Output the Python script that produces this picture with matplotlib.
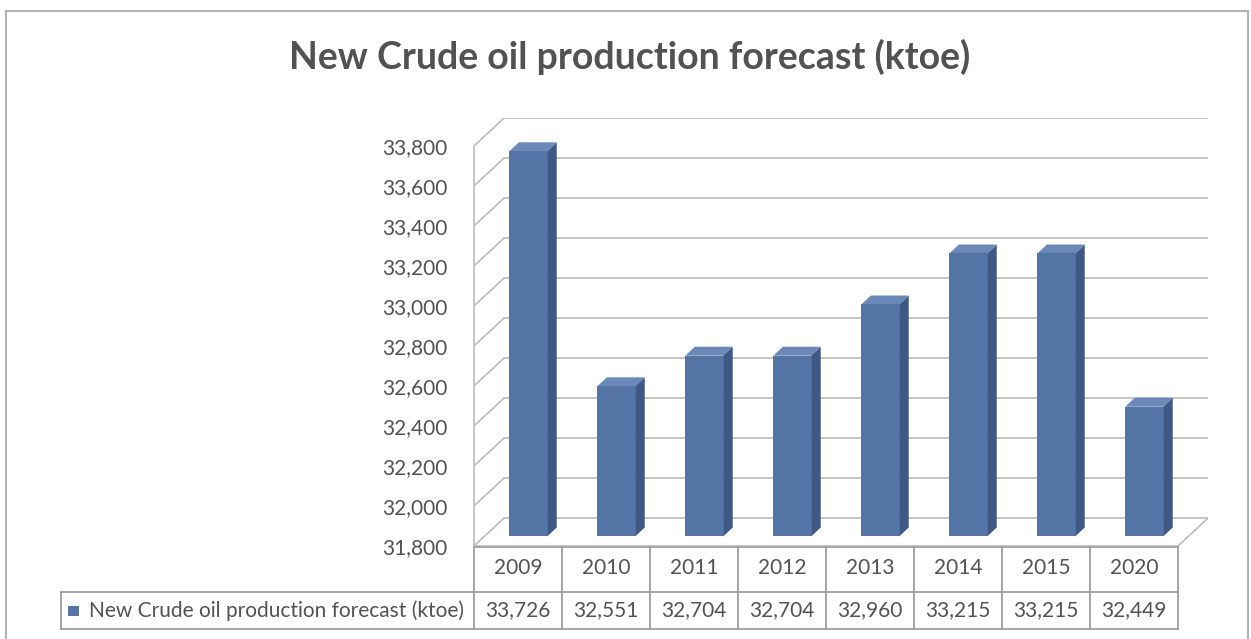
import matplotlib
matplotlib.use("Agg")
import matplotlib.pyplot as plt
from matplotlib.patches import Polygon, Rectangle
from matplotlib.lines import Line2D

# New crude oil production forecast, ktoe
years = ["2009", "2010", "2011", "2012", "2013", "2014", "2015", "2020"]
production = [33726, 32551, 32704, 32704, 32960, 33215, 33215, 32449]
series_name = "New Crude oil production forecast (ktoe)"
y_ticks = [31800, 32000, 32200, 32400, 32600, 32800, 33000, 33200, 33400, 33600, 33800]

W, H = 1251, 639
plt.rcParams["font.family"] = ["Lato", "DejaVu Sans"]
txt = "#525252"
grid_c = "#bcbcbc"
table_c = "#9e9e9e"
front_c, side_c, top_c = "#5574a6", "#3e5985", "#6a88b8"

fig = plt.figure(figsize=(W / 100, H / 100), dpi=100)
fig.patch.set_facecolor("white")

# chart frame (bottom edge runs off the canvas)
fc = "#b3b3b3"
fig.add_artist(Line2D([6 / W, 6 / W], [0, 1 - 11 / H], color=fc, lw=1.5))
fig.add_artist(Line2D([6 / W, 1248 / W], [1 - 11 / H, 1 - 11 / H], color=fc, lw=1.5))
fig.add_artist(Line2D([1248 / W, 1248 / W], [0, 1 - 11 / H], color=fc, lw=1.5))

fig.text(630 / W, 1 - 57 / H, series_name, ha="center", va="center",
         fontsize=27, fontweight="bold", color=txt)

# plot geometry (pixels)
x0, x_tab_r, x_back_r = 474, 1178, 1208
y_floor, y_top_front = 546, 146
cw = (x_tab_r - x0) / len(years)
dxp, dyp = x_back_r - x_tab_r, 28
ppu = (y_floor - y_top_front) / (y_ticks[-1] - y_ticks[0])
kx = dxp / cw
ky = dyp / ppu
vmin, vmax = y_ticks[0], y_ticks[-1]

ax = fig.add_axes([x0 / W, 1 - y_floor / H, (x_back_r - x0) / W,
                   (y_floor - (y_top_front - dyp)) / H])
ax.set_xlim(-0.5, len(years) - 0.5 + kx)
ax.set_ylim(vmin, vmax + ky)
ax.set_facecolor("none")
for s in ["top", "right", "bottom"]:
    ax.spines[s].set_visible(False)
ax.spines["left"].set_bounds(vmin, vmax)
ax.spines["left"].set_color(grid_c)
ax.spines["left"].set_linewidth(1.2)
ax.set_xticks([])
ax.set_yticks(y_ticks)
ax.set_yticklabels([f"{t:,}" for t in y_ticks])
ax.tick_params(axis="y", length=0, pad=19, labelsize=15, labelcolor=txt)


def proj(x, v, d):
    return x + d * kx, v + d * ky


left, right = -0.5, len(years) - 0.5
# back wall grid and side wall lines
for t in y_ticks:
    ax.plot([left + kx, right + kx], [t + ky, t + ky], color=grid_c, lw=1.2, zorder=1)
    ax.plot([left, left + kx], [t, t + ky], color=grid_c, lw=1.2, zorder=1)
# floor outline
ax.plot([left, right], [vmin, vmin], color=grid_c, lw=1.2, zorder=1)
ax.plot([right, right + kx], [vmin, vmin + ky], color=grid_c, lw=1.2, zorder=1)

# 3d columns
w, d0, d1 = 0.43, 0.34, 0.66
for i, v in enumerate(production):
    xl, xr = i - w / 2, i + w / 2
    front = [proj(xl, vmin, d0), proj(xr, vmin, d0), proj(xr, v, d0), proj(xl, v, d0)]
    side = [proj(xr, vmin, d0), proj(xr, vmin, d1), proj(xr, v, d1), proj(xr, v, d0)]
    top = [proj(xl, v, d0), proj(xr, v, d0), proj(xr, v, d1), proj(xl, v, d1)]
    ax.add_patch(Polygon(side, closed=True, facecolor=side_c, edgecolor="none", zorder=3))
    ax.add_patch(Polygon(top, closed=True, facecolor=top_c, edgecolor="none", zorder=3))
    ax.add_patch(Polygon(front, closed=True, facecolor=front_c, edgecolor="none", zorder=4))

# data table under the plot
x_leg, y_tab_top, y_row_split, y_tab_bot = 61, 547, 592, 629
tab = fig.add_axes([x_leg / W, 1 - y_tab_bot / H, (x_tab_r - x_leg) / W,
                    (y_tab_bot - y_tab_top) / H])
tab.set_xlim(left - (x0 - x_leg) / cw, right)
tab.set_ylim(0, 1)
tab.axis("off")
split = (y_tab_bot - y_row_split) / (y_tab_bot - y_tab_top)
lx = left - (x0 - x_leg) / cw
kw = dict(color=table_c, lw=1.3, clip_on=False)
tab.plot([left, right], [1, 1], **kw)
tab.plot([lx, right], [split, split], **kw)
tab.plot([lx, right], [0, 0], **kw)
tab.plot([lx, lx], [0, split], **kw)
for k in range(len(years) + 1):
    tab.plot([left + k, left + k], [0, 1], **kw)
for i, (yr, v) in enumerate(zip(years, production)):
    tab.text(i, (1 + split) / 2 + 0.02, yr, ha="center", va="center", fontsize=15, color=txt)
    tab.text(i, split / 2, f"{v:,}", ha="center", va="center", fontsize=15, color=txt)

# legend key inside the row header cell
px = 1 / cw
hh = y_tab_bot - y_tab_top
tab.add_patch(Rectangle((lx + 7 * px, split / 2 - 5 / hh), 11 * px, 10 / hh,
                        facecolor=front_c, edgecolor="none"))
tab.text(lx + 28 * px, split / 2, series_name, ha="left", va="center", fontsize=15, color=txt)

fig.savefig("out.png", dpi=100, facecolor="white")
